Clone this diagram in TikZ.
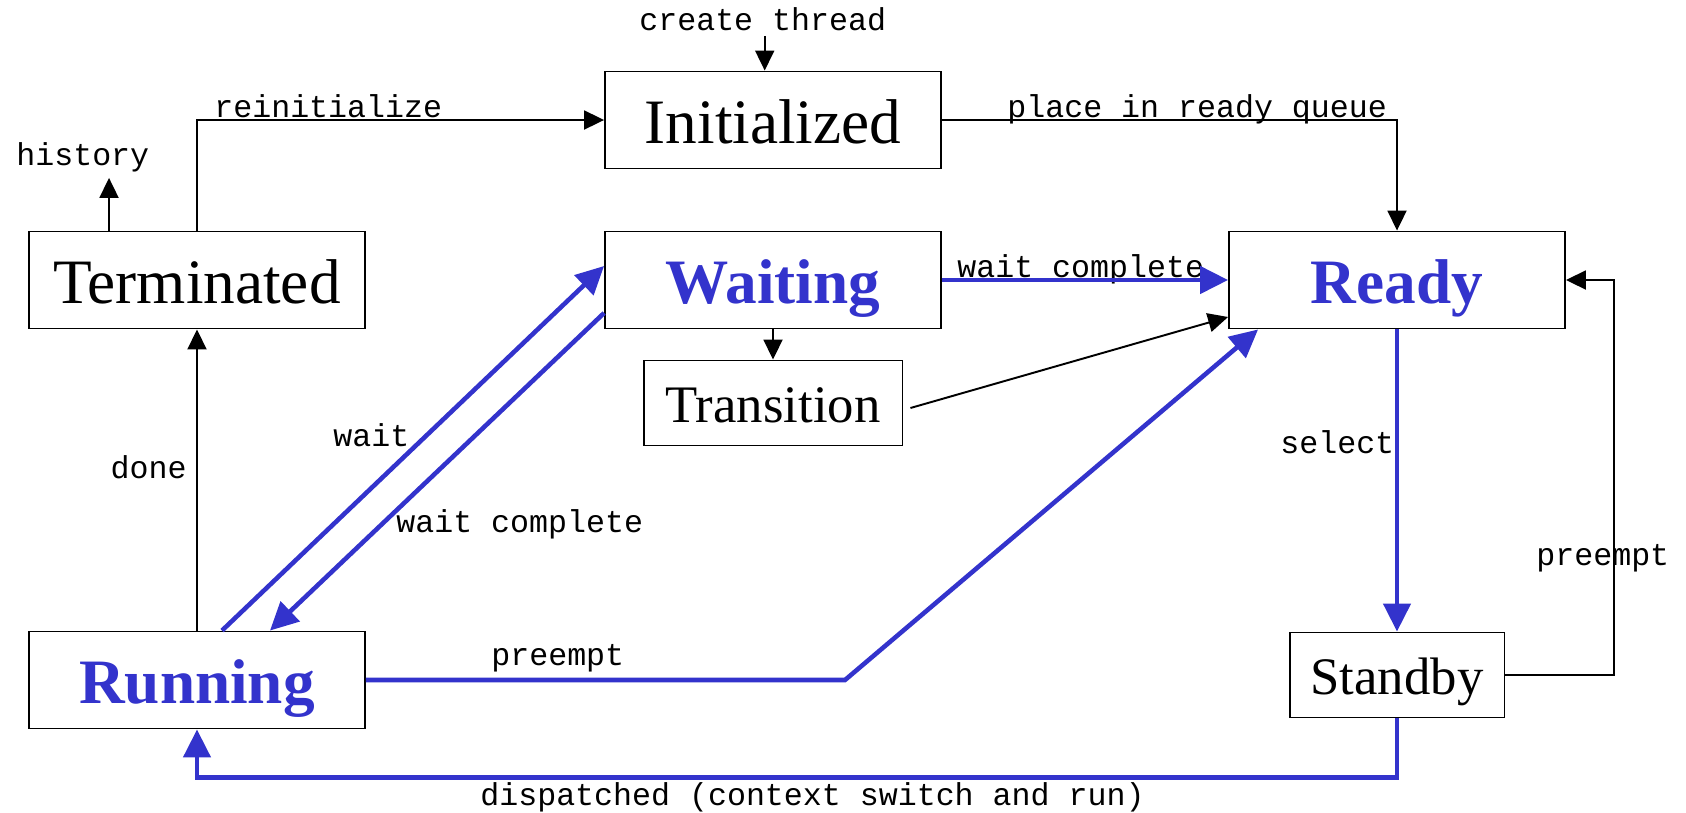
\documentclass[tikz,border=0pt]{standalone}
\usepackage{fontspec}
\setmainfont{Liberation Serif}
\setmonofont{Liberation Mono}
\usepackage{xcolor}
\usepackage{tikz}
\usetikzlibrary{arrows.meta,positioning,calc}
\definecolor{stateblue}{RGB}{51,51,204}

\begin{document}
\begin{tikzpicture}[
    x=0.02cm, y=-0.02cm,
    state/.style={rectangle, draw, line width=1.1pt, inner sep=0pt, minimum width=6.72cm, text height=1.44cm, text depth=0.5cm, font=\fontsize{36}{40}\selectfont},
    smallstate/.style={state, text height=1.24cm, text depth=0.46cm, font=\fontsize{30}{34}\selectfont},
    hot/.style={text=stateblue, font=\fontsize{36}{40}\selectfont\bfseries},
    arrow/.style={-{Triangle[length=0.4cm, width=0.38cm]}, line width=1.1pt},
    bluearrow/.style={-{Triangle[length=0.56cm, width=0.54cm]}, line width=2.6pt, draw=stateblue},
    note/.style={font=\fontsize{18}{20}\selectfont\ttfamily, inner sep=0pt, anchor=base west}
]
    \useasboundingbox (0,0) rectangle (1686,812);

    % States
    \node[state] (init) at (773,120) {Initialized};
    \node[state] (term) at (197,280) {Terminated};
    \node[state, hot] (wait) at (773,280) {Waiting};
    \node[state, hot] (ready) at (1397,280) {Ready};
    \node[smallstate, minimum width=5.18cm] (trans) at (773,403) {Transition};
    \node[state, hot] (run) at (197,680) {Running};
    \node[smallstate, minimum width=4.3cm] (stand) at (1397,675) {Standby};

    % Labels
    \node[note] (create) at (639,30) {create thread};
    \node[note] (hist) at (16,165) {history};
    \node[note] at (214,117) {reinitialize};
    \node[note] at (1007,117) {place in ready queue};
    \node[note] at (957,277) {wait complete};
    \node[note, anchor=base east] at (187,478) {done};
    \node[note] at (333,446) {wait};
    \node[note] at (396,532) {wait complete};
    \node[note] at (491,665) {preempt};
    \node[note] at (1280,453) {select};
    \node[note] at (1536,565) {preempt};
    \node[note] at (480,805) {dispatched (context switch and run)};

    % Black transitions
    \draw[arrow] ([xshift=0.04cm,yshift=-0.1cm]create.south) -- ([xshift=0.04cm]create.south |- init.north);
    \draw[arrow] ([xshift=-1.76cm]term.north) -- ([xshift=-1.76cm,yshift=-0.12cm]term.north |- hist.south);
    \draw[arrow] (term.north) |- (init.west);
    \draw[arrow] (init.east) -| (ready.north);
    \draw[arrow] (wait.south) -- (trans.north);
    \draw[arrow] ([xshift=0.14cm,yshift=-0.1cm]trans.east) -- ([yshift=-0.74cm]ready.west);
    \draw[arrow] (run.north) -- (term.south);
    \draw[arrow] (stand.east) -- ++(2.18cm,0) |- (ready.east);

    % Blue transitions
    \draw[bluearrow] (wait.east) -- (ready.west);
    \draw[bluearrow] ([xshift=0.5cm]run.north) -- ([yshift=0.28cm]wait.west);
    \draw[bluearrow] ([yshift=-0.66cm]wait.west) -- ([xshift=1.46cm]run.north);
    \coordinate (pbend) at (845,680);
    \draw[bluearrow] (run.east) -- (pbend) -- ([xshift=0.6cm]ready.south west);
    \draw[bluearrow] (ready.south) -- (stand.north);
    \draw[bluearrow] (stand.south) -- ++(0,-1.18cm) -| (run.south);
\end{tikzpicture}
\end{document}
